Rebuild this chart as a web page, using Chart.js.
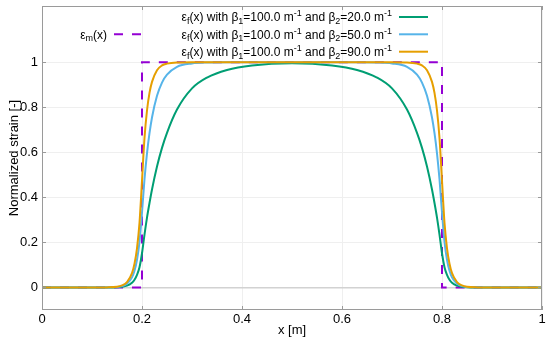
<!DOCTYPE html>
<html><head><meta charset="utf-8">
<script src="https://cdn.jsdelivr.net/npm/chart.js@4/dist/chart.umd.min.js"></script>
<style>html,body{margin:0;padding:0;background:#fff;}#wrap{width:550px;height:339px;}</style>
</head><body><div id="wrap"><canvas id="c" width="550" height="339"></canvas></div>
<script>
// ---- data ----
const xTicks = [0, 0.2, 0.4, 0.6, 0.8, 1];
const yTicks = [0, 0.2, 0.4, 0.6, 0.8, 1];
const xCurve = [0, 0.1, 0.13, 0.15, 0.16, 0.17, 0.18, 0.185, 0.19, 0.195, 0.2, 0.205, 0.21, 0.215, 0.22, 0.23, 0.24, 0.25, 0.27, 0.3, 0.33, 0.37, 0.42, 0.5,
  0.58, 0.63, 0.67, 0.7, 0.73, 0.75, 0.76, 0.77, 0.78, 0.785, 0.79, 0.795, 0.8, 0.805, 0.81, 0.815, 0.82, 0.83, 0.84, 0.85, 0.87, 0.9, 1];
const yBeta20 = [0, 0, 0.0001, 0.001, 0.003, 0.008, 0.021, 0.034, 0.056, 0.09, 0.152, 0.235, 0.31, 0.375, 0.435, 0.537, 0.62, 0.687, 0.79, 0.884, 0.932, 0.966, 0.986, 0.996,
  0.986, 0.966, 0.932, 0.884, 0.79, 0.687, 0.62, 0.537, 0.435, 0.375, 0.31, 0.235, 0.152, 0.09, 0.056, 0.034, 0.021, 0.008, 0.003, 0.001, 0.0001, 0, 0];
const yBeta50 = [0, 0, 0.0003, 0.002, 0.006, 0.017, 0.045, 0.074, 0.123, 0.202, 0.333, 0.481, 0.596, 0.685, 0.755, 0.851, 0.91, 0.945, 0.98, 0.995, 0.999, 1, 1, 1,
  1, 1, 0.999, 0.995, 0.98, 0.945, 0.91, 0.851, 0.755, 0.685, 0.596, 0.481, 0.333, 0.202, 0.123, 0.074, 0.045, 0.017, 0.006, 0.002, 0.0003, 0, 0];
const yBeta90 = [0, 0, 0.0004, 0.003, 0.009, 0.024, 0.064, 0.106, 0.174, 0.287, 0.474, 0.664, 0.786, 0.864, 0.913, 0.965, 0.986, 0.994, 0.999, 1, 1, 1, 1, 1,
  1, 1, 1, 1, 0.999, 0.994, 0.986, 0.965, 0.913, 0.864, 0.786, 0.664, 0.474, 0.287, 0.174, 0.106, 0.064, 0.024, 0.009, 0.003, 0.0004, 0, 0];
const xMatrix = [0, 0.2, 0.2, 0.8, 0.8, 1];
const yMatrix = [0, 0, 1, 1, 0, 0];
const labelMatrix = "ε_{m}(x)";
const labelsFiber = [
  "ε_{f}(x) with β_{1}=100.0 m^{-1} and β_{2}=20.0 m^{-1}",
  "ε_{f}(x) with β_{1}=100.0 m^{-1} and β_{2}=50.0 m^{-1}",
  "ε_{f}(x) with β_{1}=100.0 m^{-1} and β_{2}=90.0 m^{-1}"
];
const xTitle = "x [m]";
const yTitle = "Normalized strain [-]";

// ---- styles ----
const FONT = '"Liberation Sans", Arial, sans-serif';
const colors = ['#009e73', '#56b4e9', '#e69f00'];
const purple = '#9400d3';
const dashPat = [9, 9];
const toPts = (xs, ys) => xs.map((x, i) => ({x: x, y: ys[i]}));

function parseRich(s) {
  const segs = []; const re = /([_^])\{([^}]*)\}/g; let last = 0, m;
  while ((m = re.exec(s))) {
    if (m.index > last) segs.push({t: s.slice(last, m.index)});
    segs.push({t: m[2], sub: m[1] === '_', sup: m[1] === '^'});
    last = re.lastIndex;
  }
  if (last < s.length) segs.push({t: s.slice(last)});
  return segs;
}
function drawRich(ctx, s, xRight, yBase, size) {
  const segs = parseRich(s);
  const main = size + 'px ' + FONT, small = Math.round(size * 0.72) + 'px ' + FONT;
  let w = 0;
  segs.forEach(g => { ctx.font = (g.sub || g.sup) ? small : main; g.w = ctx.measureText(g.t).width; w += g.w; });
  let x = xRight - w;
  ctx.textAlign = 'left'; ctx.textBaseline = 'alphabetic'; ctx.fillStyle = '#000';
  segs.forEach(g => {
    ctx.font = (g.sub || g.sup) ? small : main;
    const dy = g.sub ? size * 0.22 : (g.sup ? -size * 0.42 : 0);
    ctx.fillText(g.t, x, yBase + dy); x += g.w;
  });
}

const framePlugin = {
  id: 'frame',
  afterDraw(chart) {
    const ctx = chart.ctx, a = chart.chartArea, xs = chart.scales.x, ys = chart.scales.y;
    ctx.save();
    ctx.strokeStyle = '#9a9a9a'; ctx.lineWidth = 1;
    ctx.strokeRect(a.left + 0.5, a.top + 0.5, a.right - a.left - 1, a.bottom - a.top - 1);
    ctx.beginPath();
    const tl = 4;
    xTicks.forEach(v => { const p = Math.round(xs.getPixelForValue(v)) + 0.5;
      ctx.moveTo(p, a.bottom); ctx.lineTo(p, a.bottom - tl); ctx.moveTo(p, a.top); ctx.lineTo(p, a.top + tl); });
    yTicks.forEach(v => { const p = Math.round(ys.getPixelForValue(v)) + 0.5;
      ctx.moveTo(a.left, p); ctx.lineTo(a.left + tl, p); ctx.moveTo(a.right, p); ctx.lineTo(a.right - tl, p); });
    ctx.stroke();
    // axis titles
    ctx.fillStyle = '#000'; ctx.font = '13px ' + FONT; ctx.textAlign = 'center'; ctx.textBaseline = 'middle';
    ctx.fillText(xTitle, (a.left + a.right) / 2, 330);
    ctx.save(); ctx.translate(14, (a.top + a.bottom) / 2); ctx.rotate(-Math.PI / 2);
    ctx.fillText(yTitle, 0, 0); ctx.restore();
    // legend
    const rows = [17, 34.3, 51.7];
    drawRich(ctx, labelMatrix, 107, rows[1] + 4.3, 12);
    ctx.setLineDash(dashPat); ctx.strokeStyle = purple; ctx.lineWidth = 2;
    ctx.beginPath(); ctx.moveTo(114, rows[1]); ctx.lineTo(141, rows[1]); ctx.stroke();
    ctx.setLineDash([]);
    labelsFiber.forEach((l, i) => {
      drawRich(ctx, l, 392, rows[i] + 4.3, 12);
      ctx.strokeStyle = colors[i]; ctx.lineWidth = 2;
      ctx.beginPath(); ctx.moveTo(399, rows[i]); ctx.lineTo(428, rows[i]); ctx.stroke();
    });
    ctx.restore();
  }
};

const mkCurve = (ys, i) => ({
  data: toPts(xCurve, ys), borderColor: colors[i], borderWidth: 2, pointRadius: 0,
  cubicInterpolationMode: 'monotone', fill: false, order: 3 - i
});

new Chart(document.getElementById('c'), {
  type: 'line',
  data: { datasets: [
    { data: toPts(xMatrix, yMatrix), borderColor: purple, borderWidth: 2, borderDash: dashPat, pointRadius: 0, tension: 0, fill: false, order: 4 },
    mkCurve(yBeta20, 0), mkCurve(yBeta50, 1), mkCurve(yBeta90, 2)
  ]},
  plugins: [framePlugin],
  options: {
    responsive: false, animation: false, devicePixelRatio: 1,
    layout: { padding: { top: 6, right: 8, left: 0, bottom: 0 } },
    plugins: { legend: { display: false }, tooltip: { enabled: false } },
    scales: {
      x: {
        type: 'linear', min: 0, max: 1,
        afterBuildTicks: s => { s.ticks = xTicks.map(v => ({value: v})); },
        afterFit: s => { s.height = 29; s.paddingLeft = 0; s.paddingRight = 0; },
        ticks: { font: { family: FONT, size: 13 }, color: '#000', padding: 2, maxRotation: 0,
          callback: v => (v === 0 || v === 1) ? String(v) : v.toFixed(1) },
        grid: { color: '#efefef', lineWidth: 1, drawTicks: false },
        border: { display: false }
      },
      y: {
        type: 'linear', min: -0.1, max: 1.25,
        afterBuildTicks: s => { s.ticks = yTicks.map(v => ({value: v})); },
        afterFit: s => { s.width = 42; s.paddingTop = 0; s.paddingBottom = 0; },
        ticks: { font: { family: FONT, size: 13 }, color: '#000', padding: 4,
          callback: v => (v === 0 || v === 1) ? String(v) : v.toFixed(1) },
        grid: { color: c => c.tick && c.tick.value === 0 ? '#d2d2d2' : '#efefef',
                lineWidth: c => c.tick && c.tick.value === 0 ? 1.5 : 1, drawTicks: false },
        border: { display: false }
      }
    }
  }
});
</script></body></html>
